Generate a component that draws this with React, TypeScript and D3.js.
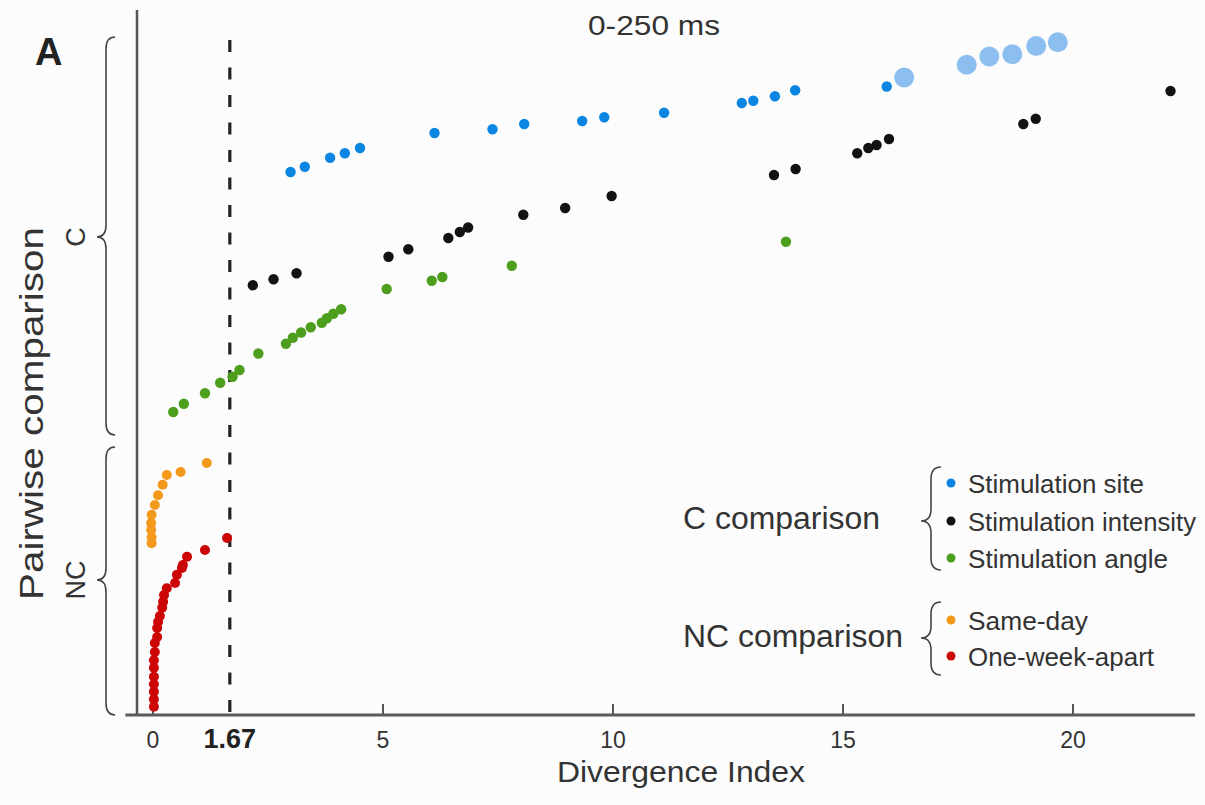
import React from 'react';
import * as d3 from 'd3';

// ---- Data (Divergence Index vs. pairwise comparison index) ----
const oneWeekApartX = [0.02, 0.02, 0.02, 0.02, 0.02, 0.02, 0.02, 0.04, 0.04, 0.09, 0.09, 0.11, 0.15, 0.2, 0.22, 0.24, 0.3, 0.48, 0.52, 0.63, 0.65, 0.74, 1.13, 1.61];
const oneWeekApartY = [1.1, 2.1, 3.1, 4.1, 5.1, 6.3, 7.3, 8.4, 9.6, 10.4, 11.6, 12.4, 13.2, 14.3, 15.1, 16.0, 16.9, 17.6, 18.7, 19.6, 20.0, 21.1, 22.0, 23.6];

const sameDayX = [-0.03, -0.03, -0.04, -0.04, -0.03, 0.04, 0.11, 0.21, 0.3, 0.6, 1.17];
const sameDayY = [22.9, 23.7, 24.7, 25.6, 26.7, 28.0, 29.3, 30.7, 32.0, 32.4, 33.6];

const angleX = [0.44, 0.67, 1.13, 1.46, 1.73, 1.88, 2.29, 2.89, 3.04, 3.22, 3.43, 3.67, 3.78, 3.92, 4.09, 5.08, 6.06, 6.29, 7.8, 13.76];
const angleY = [40.4, 41.5, 42.9, 44.3, 45.1, 46.0, 48.2, 49.5, 50.3, 51.0, 51.7, 52.3, 52.9, 53.5, 54.1, 56.8, 57.9, 58.4, 59.9, 63.1];

const intensityX = [2.17, 2.62, 3.12, 5.12, 5.55, 6.42, 6.67, 6.85, 8.05, 8.96, 9.97, 13.5, 13.97, 15.31, 15.55, 15.73, 16.0, 18.92, 19.19, 22.12];
const intensityY = [57.3, 58.1, 58.9, 61.1, 62.1, 63.6, 64.4, 65.0, 66.7, 67.6, 69.2, 72.0, 72.8, 74.9, 75.6, 76.0, 76.8, 78.8, 79.5, 83.2];

const siteX = [2.99, 3.3, 3.85, 4.17, 4.5, 6.12, 7.38, 8.07, 9.33, 9.81, 11.11, 12.8, 13.05, 13.52, 13.96, 15.95];
const siteY = [72.4, 73.1, 74.3, 74.9, 75.6, 77.6, 78.1, 78.8, 79.2, 79.7, 80.3, 81.6, 81.9, 82.5, 83.3, 83.8];

const siteLargeX = [16.33, 17.69, 18.18, 18.68, 19.2, 19.67];
const siteLargeY = [85.0, 86.7, 87.8, 88.1, 89.2, 89.7];

const xTicks = [0, 5, 10, 15, 20];
const threshold = 1.67;

const cLegendLabels = ['Stimulation site', 'Stimulation intensity', 'Stimulation angle'];
const ncLegendLabels = ['Same-day', 'One-week-apart'];

// ---- Styles ----
const COLORS = {
  site: '#0a86e2',
  siteLarge: '#8cbfef',
  intensity: '#121212',
  angle: '#4c9e1c',
  sameDay: '#f39a1d',
  oneWeek: '#cc0505',
};
const FONT = "'Liberation Sans', Arial, Helvetica, sans-serif";
const TEXT = '#333';

const W = 1205;
const H = 805;

const xScale = d3.scaleLinear().domain([0, 20]).range([153, 1073]);
const yScale = d3.scaleLinear().domain([0, 92]).range([715, 25]);

const zip = (xs: number[], ys: number[]) => xs.map((x, i) => ({ x, y: ys[i] }));

const series = [
  { key: 'oneWeek', pts: zip(oneWeekApartX, oneWeekApartY), color: COLORS.oneWeek, r: 5 },
  { key: 'sameDay', pts: zip(sameDayX, sameDayY), color: COLORS.sameDay, r: 5 },
  { key: 'angle', pts: zip(angleX, angleY), color: COLORS.angle, r: 5.2 },
  { key: 'intensity', pts: zip(intensityX, intensityY), color: COLORS.intensity, r: 5.2 },
  { key: 'site', pts: zip(siteX, siteY), color: COLORS.site, r: 5.2 },
  { key: 'siteLarge', pts: zip(siteLargeX, siteLargeY), color: COLORS.siteLarge, r: 10 },
];

function bracePath(xv: number, y0: number, y1: number, yt: number, w: number) {
  const p = d3.path();
  const r = Math.min(12, (yt - y0) / 3, (y1 - yt) / 3);
  p.moveTo(xv + w, y0);
  p.quadraticCurveTo(xv, y0, xv, y0 + r);
  p.lineTo(xv, yt - r);
  p.quadraticCurveTo(xv, yt, xv - w, yt);
  p.quadraticCurveTo(xv, yt, xv, yt + r);
  p.lineTo(xv, y1 - r);
  p.quadraticCurveTo(xv, y1, xv + w, y1);
  return p.toString();
}

export default function App() {
  const axisY = yScale(0);
  const cLegendColors = [COLORS.site, COLORS.intensity, COLORS.angle];
  const ncLegendColors = [COLORS.sameDay, COLORS.oneWeek];
  const cLegendY = [483, 521, 558];
  const ncLegendY = [620, 656];
  const cLegendW = [176, 228, 200];
  const ncLegendW = [120, 186];

  return (
    <svg
      width={W}
      height={H}
      style={{ position: 'absolute', left: 0, top: 0, background: '#fcfcfc', fontFamily: FONT }}
    >
      <rect x={0} y={0} width={W} height={H} fill="#fcfcfc" />

      {/* Panel letter and title */}
      <text x={35} y={65} fontSize={38} fontWeight="bold" fill="#222">A</text>
      <text x={588} y={35} fontSize={28} fill={TEXT} textLength={132} lengthAdjust="spacingAndGlyphs">0-250 ms</text>

      {/* Y axis title and group labels */}
      <text transform="translate(43,600) rotate(-90)" fontSize={34} fill={TEXT} textLength={373} lengthAdjust="spacingAndGlyphs">
        Pairwise comparison
      </text>
      <text transform="translate(85,237) rotate(-90)" fontSize={27} fill={TEXT} textAnchor="middle">C</text>
      <text transform="translate(85,580) rotate(-90)" fontSize={27} fill={TEXT} textAnchor="middle">NC</text>

      {/* Braces */}
      <path d={bracePath(106, 37, 435, 237, 9)} fill="none" stroke="#444" strokeWidth={1.6} />
      <path d={bracePath(106, 447, 715, 580, 9)} fill="none" stroke="#444" strokeWidth={1.6} />

      {/* Axes */}
      <line x1={137} x2={137} y1={10} y2={axisY} stroke="#555" strokeWidth={2.5} />
      <line x1={xScale(-0.6)} x2={xScale(22.65)} y1={axisY} y2={axisY} stroke="#5a5a5a" strokeWidth={3} />
      {xTicks.map((t) => (
        <g key={t}>
          <line x1={xScale(t)} x2={xScale(t)} y1={axisY} y2={axisY - 11} stroke="#555" strokeWidth={2} />
          <text x={xScale(t)} y={748} fontSize={23} fill={TEXT} textAnchor="middle">{t}</text>
        </g>
      ))}
      <text x={xScale(threshold)} y={748} fontSize={27} fontWeight="bold" fill="#222" textAnchor="middle">
        {threshold.toFixed(2)}
      </text>
      <text x={557} y={782} fontSize={30} fill={TEXT} textLength={248} lengthAdjust="spacingAndGlyphs">Divergence Index</text>

      {/* Threshold dashed line */}
      <line
        x1={xScale(threshold)}
        x2={xScale(threshold)}
        y1={40}
        y2={axisY}
        stroke="#222"
        strokeWidth={3.2}
        strokeDasharray="12 15.5"
      />

      {/* Points */}
      {series.map((s) => (
        <g key={s.key}>
          {s.pts.map((p, i) => (
            <circle key={i} cx={xScale(p.x)} cy={yScale(p.y)} r={s.r} fill={s.color} />
          ))}
        </g>
      ))}

      {/* Legend */}
      <text x={683} y={529} fontSize={31} fill={TEXT} textLength={197} lengthAdjust="spacingAndGlyphs">C comparison</text>
      <path d={bracePath(931, 467, 570, 521, 10)} fill="none" stroke="#444" strokeWidth={1.6} />
      {cLegendLabels.map((lab, i) => (
        <g key={lab}>
          <circle cx={951} cy={cLegendY[i]} r={4.5} fill={cLegendColors[i]} />
          <text x={968} y={cLegendY[i] + 10} fontSize={26} fill={TEXT} textLength={cLegendW[i]} lengthAdjust="spacingAndGlyphs">{lab}</text>
        </g>
      ))}
      <text x={683} y={647} fontSize={31} fill={TEXT} textLength={220} lengthAdjust="spacingAndGlyphs">NC comparison</text>
      <path d={bracePath(931, 602, 675, 638, 10)} fill="none" stroke="#444" strokeWidth={1.6} />
      {ncLegendLabels.map((lab, i) => (
        <g key={lab}>
          <circle cx={951} cy={ncLegendY[i]} r={4.5} fill={ncLegendColors[i]} />
          <text x={968} y={ncLegendY[i] + 10} fontSize={26} fill={TEXT} textLength={ncLegendW[i]} lengthAdjust="spacingAndGlyphs">{lab}</text>
        </g>
      ))}
    </svg>
  );
}
